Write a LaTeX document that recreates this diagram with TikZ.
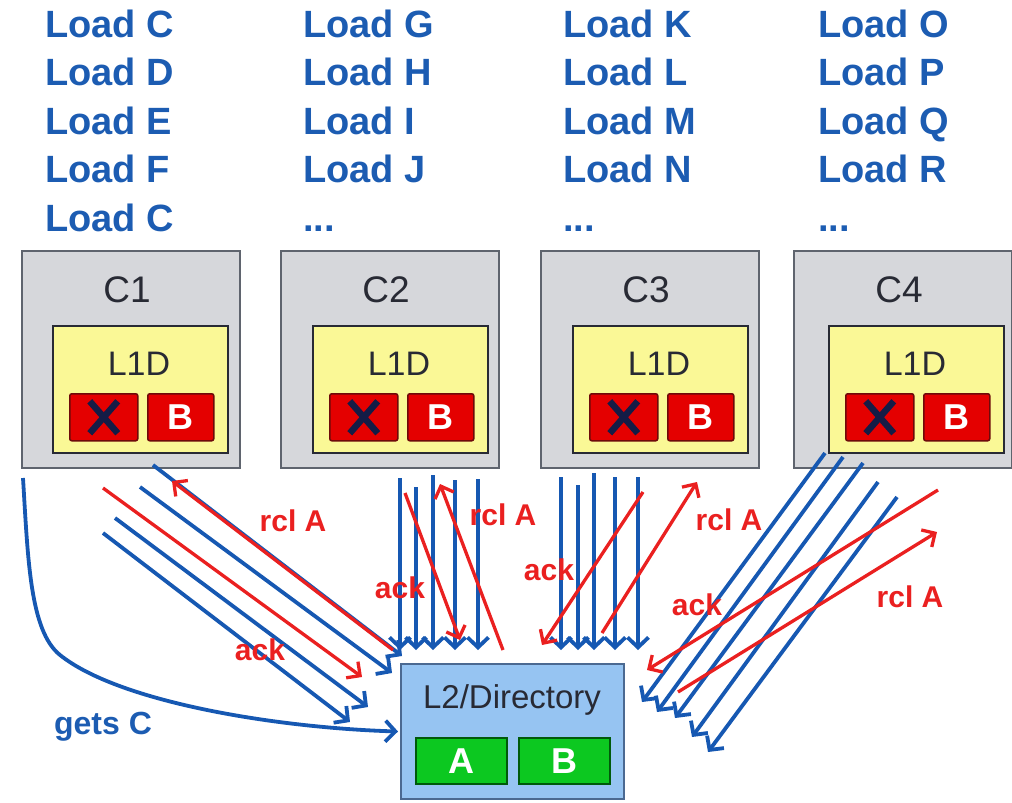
\documentclass[tikz,border=0pt]{standalone}
\usepackage{fontspec}
\setmainfont{Liberation Sans}
\usetikzlibrary{arrows.meta}
\definecolor{loadblue}{RGB}{28,92,178}
\definecolor{arrblue}{RGB}{22,88,178}
\definecolor{arrred}{RGB}{234,32,32}
\definecolor{coregray}{RGB}{214,215,219}
\definecolor{coreedge}{RGB}{95,100,110}
\definecolor{l1yellow}{RGB}{250,248,150}
\definecolor{cellred}{RGB}{228,0,0}
\definecolor{celledge}{RGB}{110,10,10}
\definecolor{l2blue}{RGB}{150,196,242}
\definecolor{l2edge}{RGB}{75,105,145}
\definecolor{cellgreen}{RGB}{12,200,32}
\definecolor{greenedge}{RGB}{0,90,10}
\definecolor{xnavy}{RGB}{20,28,70}
\definecolor{boxtext}{RGB}{40,42,52}
\begin{document}
\begin{tikzpicture}[x=1pt,y=-1pt,
  corebox/.style={draw=coreedge, fill=coregray, line width=2pt, minimum width=218pt, minimum height=217pt, anchor=north west, inner sep=0pt},
  l1box/.style={draw=boxtext, fill=l1yellow, line width=2pt, minimum width=175pt, minimum height=127pt, anchor=north west, inner sep=0pt},
  redcell/.style={draw=celledge, fill=cellred, line width=1.5pt, rounded corners=2pt, minimum height=47pt, anchor=north west, inner sep=0pt, text=white, font=\fontsize{36}{40}\selectfont\bfseries},
  greencell/.style={draw=greenedge, fill=cellgreen, line width=1.5pt, minimum width=91pt, minimum height=46pt, inner sep=0pt, anchor=north west, text=white, font=\fontsize{36}{40}\selectfont\bfseries},
  l2box/.style={draw=l2edge, fill=l2blue, line width=2pt, minimum width=223pt, minimum height=135pt, anchor=north west, inner sep=0pt},
  boxlabel/.style={text=boxtext, font=\fontsize{37}{42}\selectfont, anchor=base, inner sep=0pt},
  l1label/.style={text=boxtext, font=\fontsize{34}{40}\selectfont, anchor=base, inner sep=0pt},
  loadtxt/.style={text=loadblue, font=\fontsize{38}{44}\selectfont\bfseries, anchor=base west, inner sep=0pt},
  redlbl/.style={text=arrred, font=\fontsize{30}{36}\selectfont\bfseries, inner sep=0pt},
  bluelbl/.style={text=loadblue, font=\fontsize{32}{38}\selectfont\bfseries, inner sep=0pt},
  barrow/.style={draw=arrblue, line width=3.8pt, -{Straight Barb[length=10pt,width=21pt]}},
  rarrow/.style={draw=arrred, line width=3.3pt, -{Straight Barb[length=10pt,width=20pt]}}
]
\useasboundingbox (0,0) rectangle (1012,803);

% load instruction lists
\foreach \t [count=\r] in {Load C, Load D, Load E, Load F, Load C}
  \node[loadtxt] (ldA\r) at (45,{37+48.5*(\r-1)}) {\t};
\foreach \t [count=\r] in {Load G, Load H, Load I, Load J}
  \node[loadtxt] (ldB\r) at (303,{37+48.5*(\r-1)}) {\t};
\foreach \t [count=\r] in {Load K, Load L, Load M, Load N}
  \node[loadtxt] (ldC\r) at (563,{37+48.5*(\r-1)}) {\t};
\foreach \t [count=\r] in {Load O, Load P, Load Q, Load R}
  \node[loadtxt] (ldD\r) at (818,{37+48.5*(\r-1)}) {\t};
\node[loadtxt] (ldB5) at (303,231) {...};
\node[loadtxt] (ldC5) at (563,231) {...};
\node[loadtxt] (ldD5) at (818,231) {...};

% cores
\foreach \i/\gx/\yx in {1/21/52, 2/280/312, 3/540/572, 4/793/828}{
  \node[corebox] (C\i) at (\gx,250) {};
  \node[boxlabel] (C\i lbl) at ({\gx+106},302) {C\i};
  \node[l1box] (L\i) at (\yx,325) {};
  \node[l1label] (L\i lbl) at ({\yx+87},375) {L1D};
  \node[redcell, minimum width=68pt] (X\i) at ({\yx+17},393) {};
  \draw[xnavy, line width=6.5pt] ([shift={(-14,-16)}]X\i.center) -- ([shift={(14,16)}]X\i.center);
  \draw[xnavy, line width=6.5pt] ([shift={(14,-16)}]X\i.center) -- ([shift={(-14,16)}]X\i.center);
  \node[redcell, minimum width=66pt] (B\i) at ({\yx+95},393) {B};
}

% L2 directory
\node[l2box] (L2) at (400,663) {};
\node[l1label, font=\fontsize{33}{38}\selectfont] (L2lbl) at (512,708) {L2/Directory};
\node[greencell] (A2) at (415,737) {A};
\node[greencell] (B2) at (518,737) {B};

% blue request arrows
\foreach \n/\sx/\sy/\ex/\ey in {
  b1a/153/465/402/656, b1b/140/487/392/673, b1c/115/518/368/707, b1d/103/533/350/722,
  b2a/400/478/400/650, b2b/416/487/416/650, b2c/433/475/433/650, b2d/455/480/455/650, b2e/478/479/478/650,
  b3a/561/477/561/650, b3b/578/485/578/650, b3c/594/473/594/650, b3d/615/477/615/650, b3e/638/477/638/650,
  b4a/825/453/642/702, b4b/843/457/657/712, b4c/863/463/675/718, b4d/878/482/692/737, b4e/897/497/708/752}{
  \coordinate (\n s) at (\sx,\sy);
  \coordinate (\n e) at (\ex,\ey);
  \draw[barrow] (\n s) -- (\n e);
}

% gets C
\coordinate (getsCs) at (23,478);
\draw[barrow] (getsCs) .. controls (28,560) and (30,631) .. (60,655)
  .. controls (120,703) and (280,728) .. ([xshift=-2pt]L2.west);

% red recall / ack arrows
\foreach \n/\sx/\sy/\ex/\ey in {
  r1a/393/650/172/481, r1b/103/488/362/677,
  r2a/405/493/460/640, r2b/503/650/440/484,
  r3a/643/492/542/645, r3b/602/633/697/482,
  r4a/938/490/647/670, r4b/678/692/937/532}{
  \coordinate (\n s) at (\sx,\sy);
  \coordinate (\n e) at (\ex,\ey);
  \draw[rarrow] (\n s) -- (\n e);
}

% labels
\node[redlbl] (t1) at (293,521) {rcl A};
\node[redlbl] (t2) at (260,650) {ack};
\node[redlbl] (t3) at (400,588) {ack};
\node[redlbl] (t4) at (503,515) {rcl A};
\node[redlbl] (t5) at (549,570) {ack};
\node[redlbl] (t6) at (729,520) {rcl A};
\node[redlbl] (t7) at (697,605) {ack};
\node[redlbl] (t8) at (910,597) {rcl A};
\node[bluelbl] (t9) at (103,727) {gets C};
\end{tikzpicture}
\end{document}
